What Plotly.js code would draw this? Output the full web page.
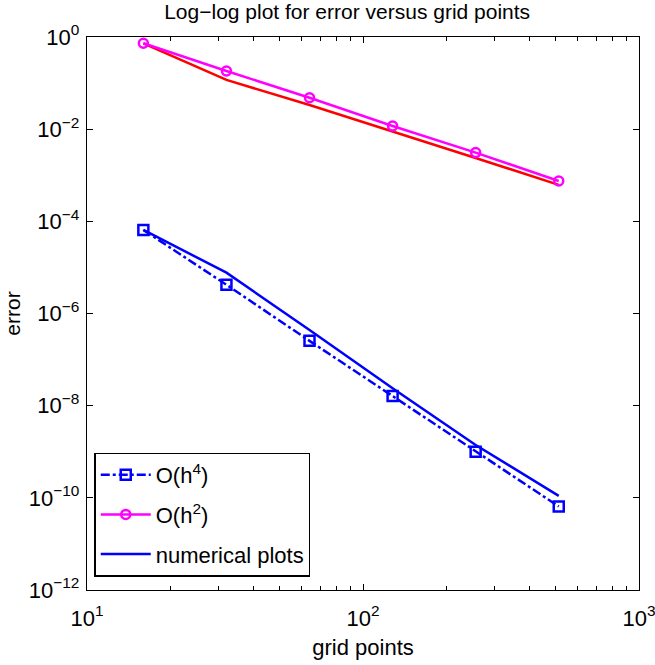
<!DOCTYPE html>
<html>
<head>
<meta charset="utf-8">
<script src="https://cdn.plot.ly/plotly-3.0.1.min.js"></script>
<style>
  html, body { margin: 0; padding: 0; background: #fff; }
  #chart { width: 655px; height: 665px; }
</style>
</head>
<body>
<div id="chart"></div>
<script>
// Grid sizes used in the convergence study
const gridPts = [16, 32, 64, 128, 256, 512];

// Reference slopes
const orderH4 = [6.5e-5, 4.2e-6, 2.55e-7, 1.63e-8, 1.0e-9, 6.5e-11];
const orderH2 = [0.73, 0.183, 0.048, 0.0117, 0.0031, 7.5e-4];

// Measured errors of the two schemes
const errSecond = [0.73, 0.117, 0.0335, 0.009, 0.00237, 6.2e-4];
const errFourth = [6.5e-5, 7.7e-6, 4.4e-7, 2.4e-8, 1.4e-9, 1.1e-10];

// Axis tick labels
const xTickVals = [10, 100, 1000];
const xTickText = ['10<sup>1</sup>', '10<sup>2</sup>', '10<sup>3</sup>'];
const yTickVals = [1, 1e-2, 1e-4, 1e-6, 1e-8, 1e-10, 1e-12];
const yTickText = ['10<sup>0</sup>', '10<sup>−2</sup>', '10<sup>−4</sup>', '10<sup>−6</sup>',
                   '10<sup>−8</sup>', '10<sup>−10</sup>', '10<sup>−12</sup>'];

const FONT = 'Liberation Sans, Arial, Helvetica, sans-serif';

const traces = [
  {
    x: gridPts, y: errSecond, mode: 'lines', showlegend: false,
    line: {color: '#ff0000', width: 2.5}, hoverinfo: 'skip'
  },
  {
    x: gridPts, y: orderH4, mode: 'lines+markers', name: 'O(h<sup>4</sup>)', legendgroup: 'a',
    line: {color: '#0000ff', width: 2.5, dash: 'dashdot'},
    marker: {symbol: 'square-open', size: 10, color: '#0000ff', line: {width: 2.5, color: '#0000ff'}}
  },
  {
    x: gridPts, y: orderH2, mode: 'lines+markers', name: 'O(h<sup>2</sup>)', legendgroup: 'b',
    line: {color: '#ff00ff', width: 2.5},
    marker: {symbol: 'circle-open', size: 9, color: '#ff00ff', line: {width: 2.5, color: '#ff00ff'}}
  },
  {
    x: gridPts, y: errFourth, mode: 'lines', name: 'numerical plots', legendgroup: 'c',
    line: {color: '#0000ff', width: 2.5}
  }
];

const layout = {
  width: 655, height: 665,
  paper_bgcolor: '#ffffff', plot_bgcolor: '#ffffff',
  margin: {l: 87, r: 16, t: 37, b: 75, pad: 0},
  font: {family: FONT, size: 22, color: '#000'},
  title: {
    text: 'Log−log plot for error versus grid points',
    font: {family: FONT, size: 21, color: '#000'},
    x: 0.53, xanchor: 'center', y: 0.982, yanchor: 'middle'
  },
  showlegend: true,
  legend: {
    x: 0.0135, y: 0.024, xanchor: 'left', yanchor: 'bottom',
    bgcolor: '#ffffff', bordercolor: '#000', borderwidth: 1.3,
    font: {family: FONT, size: 22, color: '#000'},
    itemwidth: 50, tracegroupgap: 8, traceorder: 'grouped'
  },
  xaxis: {
    type: 'log', range: [0.9999, 3.0001],
    tickmode: 'array', tickvals: xTickVals, ticktext: xTickText,
    ticks: 'inside', ticklen: 6, tickwidth: 1, tickcolor: '#000',
    minor: {ticks: 'inside', ticklen: 4, tickwidth: 1, tickcolor: '#000', dtick: 'D1', showgrid: false},
    showline: true, linecolor: '#000', linewidth: 1.3, mirror: 'ticks',
    showgrid: false, zeroline: false,
    tickfont: {family: FONT, size: 22, color: '#000'},
    ticklabelstandoff: 8, ticklabeloverflow: 'allow',
    title: {text: 'grid points', font: {family: FONT, size: 22, color: '#000'}, standoff: 10}
  },
  yaxis: {
    type: 'log', range: [-12, 0],
    tickmode: 'array', tickvals: yTickVals, ticktext: yTickText,
    ticks: 'inside', ticklen: 6, tickwidth: 1, tickcolor: '#000',
    showline: true, linecolor: '#000', linewidth: 1.3, mirror: 'ticks',
    showgrid: false, zeroline: false,
    tickfont: {family: FONT, size: 22, color: '#000'},
    ticklabelstandoff: 2,
    title: {text: 'error', font: {family: FONT, size: 21, color: '#000'}, standoff: 2}
  }
};

Plotly.newPlot('chart', traces, layout, {displayModeBar: false, staticPlot: true});
</script>
</body>
</html>
